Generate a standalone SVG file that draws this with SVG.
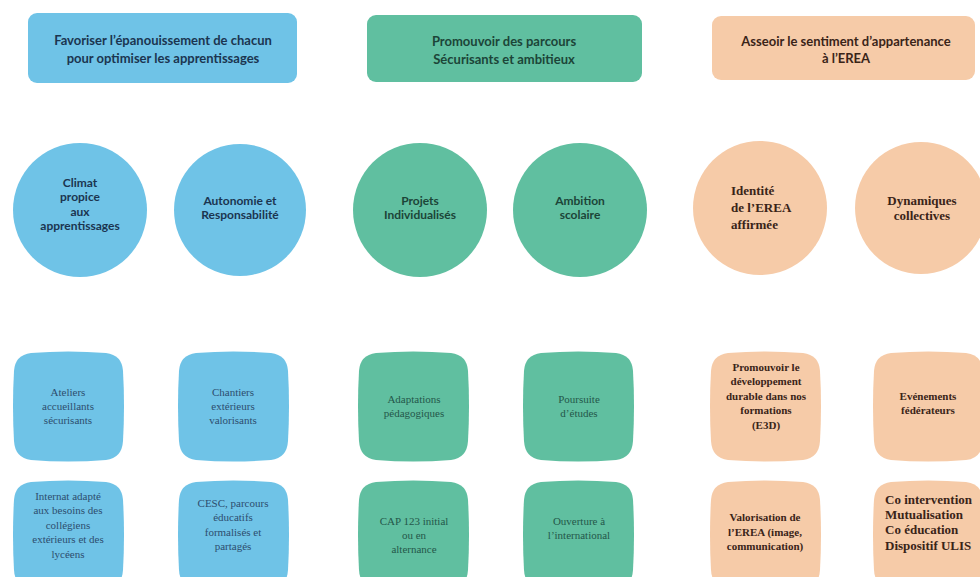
<svg xmlns="http://www.w3.org/2000/svg" xmlns:xlink="http://www.w3.org/1999/xlink" width="980" height="577" viewBox="0 0 980 577">
<style>
.b{fill:#6fc3e7}.g{fill:#60bfa0}.p{fill:#f6cba8}
.hs{font-family:Lato,"Open Sans","Liberation Sans",sans-serif;font-weight:bold;font-size:13px;text-anchor:middle}
.hc{font-family:Lato,"Open Sans","Liberation Sans",sans-serif;font-weight:bold;font-size:12px;text-anchor:middle}
.sq{font-family:"Liberation Serif","DejaVu Serif",serif;font-size:11px;text-anchor:middle}
.sqp{font-family:"Liberation Serif","DejaVu Serif",serif;font-size:11px;text-anchor:middle;font-weight:600}
.sqs{font-family:"Liberation Serif","DejaVu Serif",serif;font-size:13px;text-anchor:start;font-weight:600}
.cp{font-family:"Liberation Serif","DejaVu Serif",serif;font-size:13px;font-weight:bold;text-anchor:start}
.cpm{font-family:"Liberation Serif","DejaVu Serif",serif;font-size:13px;font-weight:bold;text-anchor:middle}
.tb{fill:#1b3550}.tg{fill:#1c4538}.tp{fill:#3a2418}
.tbs{fill:#2d4d6e}.tgs{fill:#24574a}
</style>
<defs>
<path id="sqr" d="M18 2 Q55 -1 93 2 Q109 4 110 20 Q112 55 110 90 Q109 107 93 109 Q55 112 18 109 Q2 107 1 90 Q-1 55 1 20 Q2 4 18 2 Z"/>
</defs>
<rect width="980" height="577" fill="#ffffff"/>
<g id="connectors"/>
<g id="top1"><rect class="b" x="28" y="13" width="269" height="70" rx="9"/>
<text class="hs tb" x="163" y="45">Favoriser l’épanouissement de chacun</text>
<text class="hs tb" x="163" y="63">pour optimiser les apprentissages</text></g>
<g id="top2"><rect class="g" x="367" y="15" width="275" height="67" rx="9"/>
<text class="hs tg" x="504" y="46">Promouvoir des parcours</text>
<text class="hs tg" x="504" y="64">Sécurisants et ambitieux</text></g>
<g id="top3"><rect class="p" x="712" y="16" width="263" height="64" rx="9"/>
<text class="hs tp" x="846" y="46">Asseoir le sentiment d’appartenance</text>
<text class="hs tp" x="846" y="63">à l’EREA</text></g>

<g id="c1"><circle class="b" cx="80" cy="210" r="67"/>
<text class="hc tb" x="80" y="187">Climat</text><text class="hc tb" x="80" y="201">propice</text><text class="hc tb" x="80" y="216">aux</text><text class="hc tb" x="80" y="230">apprentissages</text></g>
<g id="c2"><circle class="b" cx="240" cy="210" r="66"/>
<text class="hc tb" x="240" y="205">Autonomie et</text><text class="hc tb" x="240" y="219">Responsabilité</text></g>
<g id="c3"><circle class="g" cx="420" cy="210" r="67"/>
<text class="hc tg" x="420" y="205">Projets</text><text class="hc tg" x="420" y="219">Individualisés</text></g>
<g id="c4"><circle class="g" cx="580" cy="210" r="67"/>
<text class="hc tg" x="580" y="205">Ambition</text><text class="hc tg" x="580" y="219">scolaire</text></g>
<g id="c5"><circle class="p" cx="760" cy="208" r="67"/>
<text class="cp tp" x="731" y="195">Identité</text><text class="cp tp" x="731" y="212">de l’EREA</text><text class="cp tp" x="731" y="229">affirmée</text></g>
<g id="c6"><circle class="p" cx="921" cy="208" r="66"/>
<text class="cpm tp" x="922" y="205">Dynamiques</text><text class="cpm tp" x="922" y="220">collectives</text></g>

<g id="s1"><use xlink:href="#sqr" class="b" x="13" y="351"/>
<text class="sq tbs" x="68" y="396">Ateliers</text><text class="sq tbs" x="68" y="410">accueillants</text><text class="sq tbs" x="68" y="424">sécurisants</text></g>
<g id="s2"><use xlink:href="#sqr" class="b" x="178" y="351"/>
<text class="sq tbs" x="233" y="396">Chantiers</text><text class="sq tbs" x="233" y="410">extérieurs</text><text class="sq tbs" x="233" y="424">valorisants</text></g>
<g id="s3"><use xlink:href="#sqr" class="g" x="358" y="351"/>
<text class="sq tgs" x="414" y="403">Adaptations</text><text class="sq tgs" x="414" y="417">pédagogiques</text></g>
<g id="s4"><use xlink:href="#sqr" class="g" x="523" y="351"/>
<text class="sq tgs" x="579" y="403">Poursuite</text><text class="sq tgs" x="579" y="417">d’études</text></g>
<g id="s5"><use xlink:href="#sqr" class="p" x="710" y="351"/>
<text class="sqp tp" x="766" y="371">Promouvoir le</text><text class="sqp tp" x="766" y="385">développement</text><text class="sqp tp" x="766" y="400">durable dans nos</text><text class="sqp tp" x="766" y="414">formations</text><text class="sqp tp" x="766" y="429">(E3D)</text></g>
<g id="s6"><use xlink:href="#sqr" class="p" x="873" y="351"/>
<text class="sqp tp" x="928" y="400">Evénements</text><text class="sqp tp" x="928" y="414">fédérateurs</text></g>

<g id="s7"><use xlink:href="#sqr" class="b" x="13" y="480"/>
<text class="sq tbs" x="68" y="500">Internat adapté</text><text class="sq tbs" x="68" y="514">aux besoins des</text><text class="sq tbs" x="68" y="529">collégiens</text><text class="sq tbs" x="68" y="543">extérieurs et des</text><text class="sq tbs" x="68" y="558">lycéens</text></g>
<g id="s8"><use xlink:href="#sqr" class="b" x="178" y="480"/>
<text class="sq tbs" x="233" y="507">CESC, parcours</text><text class="sq tbs" x="233" y="521">éducatifs</text><text class="sq tbs" x="233" y="536">formalisés et</text><text class="sq tbs" x="233" y="550">partagés</text></g>
<g id="s9"><use xlink:href="#sqr" class="g" x="358" y="480"/>
<text class="sq tgs" x="414" y="525">CAP 123 initial</text><text class="sq tgs" x="414" y="539">ou en</text><text class="sq tgs" x="414" y="553">alternance</text></g>
<g id="s10"><use xlink:href="#sqr" class="g" x="523" y="480"/>
<text class="sq tgs" x="579" y="525">Ouverture à</text><text class="sq tgs" x="579" y="539">l’international</text></g>
<g id="s11"><use xlink:href="#sqr" class="p" x="710" y="480"/>
<text class="sqp tp" x="765" y="521">Valorisation de</text><text class="sqp tp" x="765" y="536">l’EREA (image,</text><text class="sqp tp" x="765" y="550">communication)</text></g>
<g id="s12"><use xlink:href="#sqr" class="p" x="873" y="480"/>
<text class="sqs tp" x="885" y="504">Co intervention</text><text class="sqs tp" x="885" y="519">Mutualisation</text><text class="sqs tp" x="885" y="534">Co éducation</text><text class="sqs tp" x="885" y="550">Dispositif ULIS</text></g>
</svg>
